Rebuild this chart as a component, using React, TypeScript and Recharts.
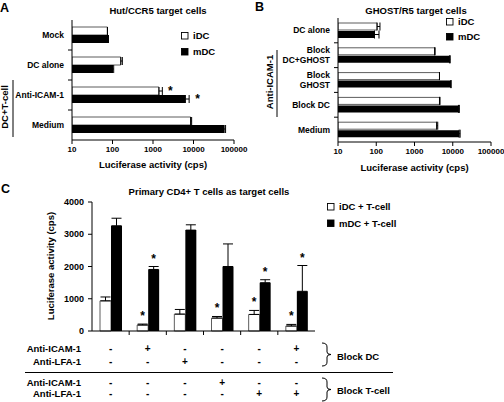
import { Bar, BarChart, ErrorBar, LabelList, Legend, XAxis, YAxis } from 'recharts'

const FONT = '"Liberation Sans", Arial, Helvetica, sans-serif'

// A: Hut/CCR5 target cells
const hutCategories = ['Mock', 'DC alone', 'Anti-ICAM-1', 'Medium']
const hutIdc = [75, 160, 1400, 8500]
const hutIdcErr = [0, 15, 300, 500]
const hutMdc = [79, 100, 6300, 57000]
const hutMdcErr = [0, 7, 1500, 5000]
const hutIdcStar = ['', '', '*', '']
const hutMdcStar = ['', '', '*', '']

// B: GHOST/R5 target cells
const ghostCategories = ['DC alone', 'Block\nDC+GHOST', 'Block\nGHOST', 'Block DC', 'Medium']
const ghostIdc = [105, 3400, 4500, 4500, 3800]
const ghostIdcErr = [20, 0, 0, 150, 250]
const ghostMdc = [90, 8200, 9000, 14100, 14700]
const ghostMdcErr = [28, 400, 0, 800, 900]

const logTicks = [10, 100, 1000, 10000, 100000]

// C: primary CD4+ T cells
const primaryIdc = [935, 185, 523, 400, 513, 154]
const primaryIdcErr = [120, 30, 145, 50, 125, 50]
const primaryMdc = [3262, 1908, 3128, 2000, 1497, 1231]
const primaryMdcErr = [235, 92, 165, 700, 93, 800]
const primaryIdcStar = [false, true, false, true, true, true]
const primaryMdcStar = [false, true, false, false, true, true]
const blockDcIcam = ['-', '+', '-', '-', '-', '+']
const blockDcLfa = ['-', '-', '+', '-', '-', '-']
const blockTIcam = ['-', '-', '-', '+', '-', '-']
const blockTLfa = ['-', '-', '-', '-', '+', '+']
const primaryTicks = [0, 1000, 2000, 3000, 4000]

const hutData = hutCategories.map((name, i) => ({
  name,
  idc: hutIdc[i],
  idcErr: [0, hutIdcErr[i]],
  idcStar: hutIdcStar[i],
  mdc: hutMdc[i],
  mdcErr: [0, hutMdcErr[i]],
  mdcStar: hutMdcStar[i],
}))

const ghostData = ghostCategories.map((name, i) => ({
  name,
  idc: ghostIdc[i],
  idcErr: [0, ghostIdcErr[i]],
  mdc: ghostMdc[i],
  mdcErr: [0, ghostMdcErr[i]],
}))

const primaryData = primaryIdc.map((v, i) => ({
  cond: String(i + 1),
  idc: v,
  idcErr: [0, primaryIdcErr[i]],
  mdc: primaryMdc[i],
  mdcErr: [0, primaryMdcErr[i]],
}))

const bold = { fontWeight: 'bold', fill: '#000' } as const

function CategoryTick(props: any) {
  const { x, y, payload } = props
  const lines = String(payload.value).split('\n')
  const lineH = 9.5
  const y0 = y - ((lines.length - 1) * lineH) / 2
  const half = payload.offset
  return (
    <g>
      {payload.index > 0 && half ? (
        <line x1={x + 4} x2={x + 8} y1={y - half} y2={y - half} stroke="#000" />
      ) : null}
      <text x={x} y={y0 + 3} textAnchor="end" fontSize={8.5} {...bold}>
        {lines.map((l, i) => (
          <tspan key={i} x={x} dy={i === 0 ? 0 : lineH}>
            {l}
          </tspan>
        ))}
      </text>
    </g>
  )
}

const tableRows = [blockDcIcam, blockDcLfa, blockTIcam, blockTLfa]
const tableOffsets = [17, 30, 51, 62]

function TableTick(props: any) {
  const { x, y, payload } = props
  const i = payload.index
  const half = payload.offset
  return (
    <g>
      {i > 0 && half ? <line x1={x - half} x2={x - half} y1={y} y2={y + 4} stroke="#000" /> : null}
      {tableRows.map((row, k) => (
        <text key={k} x={x} y={y + tableOffsets[k] + 3.5} textAnchor="middle" fontSize={10} {...bold}>
          {row[i]}
        </text>
      ))}
    </g>
  )
}

const starAbove = (stars: boolean[], errs: number[]) => (p: any) => {
  const vb = p.viewBox ?? p
  const { x, y, width, height } = vb
  const i = p.index
  if (!stars[i] || !p.value) return null
  const errPx = (height * errs[i]) / Number(p.value)
  return (
    <text x={x + width / 2} y={y - errPx - 4} textAnchor="middle" fontSize={12} {...bold}>
      *
    </text>
  )
}

function LegendBox({ payload, gap }: any) {
  return (
    <svg width={90} height={gap + 14} style={{ overflow: 'visible' }}>
      {(payload ?? []).map((e: any, i: number) => (
        <g key={i}>
          <rect x={1.5} y={4.5 + i * gap} width={6.5} height={6.5} fill={e.color} stroke="#000" strokeWidth={0.9} />
          <text x={13} y={11 + i * gap} fontSize={9.5} {...bold}>
            {e.value}
          </text>
        </g>
      ))}
    </svg>
  )
}

const frame = { stroke: '#8a8a8a' }
const axis = { stroke: '#000' }
const label = { fontSize: 9.5, ...bold }

export default function App() {
  return (
    <div style={{ position: 'absolute', left: 0, top: 0, width: 504, height: 402, background: '#fff', fontFamily: FONT }}>
      <div style={{ position: 'absolute', left: 0, top: 0 }}>
        <BarChart width={250} height={175} data={hutData} layout="vertical" barGap={0}
          margin={{ top: 20, right: 16, bottom: 0, left: 0 }}>
          <XAxis type="number" scale="log" domain={[10, 100000]} ticks={logTicks} allowDataOverflow height={35}
            tickSize={4} tickMargin={2} axisLine={axis} tickLine={axis} tick={{ fontSize: 8, ...bold }}
            label={{ value: 'Luciferase activity (cps)', position: 'insideBottom', offset: 7, style: label }} />
          <XAxis xAxisId="top" orientation="top" type="number" scale="log" domain={[10, 100000]} allowDataOverflow
            height={0} tick={false} tickLine={false} axisLine={frame} />
          <YAxis type="category" dataKey="name" width={72} interval={0} axisLine={axis} tickLine={false}
            tick={<CategoryTick />} />
          <YAxis yAxisId="right" orientation="right" type="category" dataKey="name" width={0} tick={false}
            tickLine={false} axisLine={frame} />
          <Legend layout="horizontal" verticalAlign="middle" align="center"
            wrapperStyle={{ left: 180, top: 28, width: 60, height: 32 }}
            content={(p: any) => <LegendBox payload={p.payload} gap={16} />} />
          <Bar dataKey="idc" name="iDC" fill="#fff" stroke="#333" strokeWidth={0.8} barSize={8} isAnimationActive={false}>
            <ErrorBar dataKey="idcErr" direction="x" width={4} stroke="#000" strokeWidth={1} />
            <LabelList dataKey="idcStar" position="right" offset={9} fill="#000" fontSize={12} fontWeight="bold" />
          </Bar>
          <Bar dataKey="mdc" name="mDC" fill="#000" barSize={8} isAnimationActive={false}>
            <ErrorBar dataKey="mdcErr" direction="x" width={4} stroke="#000" strokeWidth={1} />
            <LabelList dataKey="mdcStar" position="right" offset={10} fill="#000" fontSize={12} fontWeight="bold" />
          </Bar>
        </BarChart>
      </div>

      <div style={{ position: 'absolute', left: 250, top: 0 }}>
        <BarChart width={254} height={178} data={ghostData} layout="vertical" barGap={1}
          margin={{ top: 18, right: 13, bottom: 0, left: 0 }}>
          <XAxis type="number" scale="log" domain={[10, 100000]} ticks={logTicks} allowDataOverflow height={36}
            tickSize={4} tickMargin={2} axisLine={axis} tickLine={axis} tick={{ fontSize: 8, ...bold }}
            label={{ value: 'Luciferase activity (cps)', position: 'insideBottom', offset: 7, style: label }} />
          <XAxis xAxisId="top" orientation="top" type="number" scale="log" domain={[10, 100000]} allowDataOverflow
            height={0} tick={false} tickLine={false} axisLine={frame} />
          <YAxis type="category" dataKey="name" width={88} interval={0} axisLine={axis} tickLine={false}
            tick={<CategoryTick />} />
          <YAxis yAxisId="right" orientation="right" type="category" dataKey="name" width={0} tick={false}
            tickLine={false} axisLine={frame} />
          <Legend layout="horizontal" verticalAlign="middle" align="center"
            wrapperStyle={{ left: 195, top: 14, width: 60, height: 30 }}
            content={(p: any) => <LegendBox payload={p.payload} gap={15} />} />
          <Bar dataKey="idc" name="iDC" fill="#fff" stroke="#333" strokeWidth={0.8} barSize={7} isAnimationActive={false}>
            <ErrorBar dataKey="idcErr" direction="x" width={4} stroke="#000" strokeWidth={1} />
          </Bar>
          <Bar dataKey="mdc" name="mDC" fill="#000" barSize={7} isAnimationActive={false}>
            <ErrorBar dataKey="mdcErr" direction="x" width={4} stroke="#000" strokeWidth={1} />
          </Bar>
        </BarChart>
      </div>

      <div style={{ position: 'absolute', left: 0, top: 190 }}>
        <BarChart width={504} height={212} data={primaryData} barGap={0}
          margin={{ top: 12, right: 189, bottom: 0, left: 0 }}>
          <XAxis dataKey="cond" height={71} interval={0} tickSize={0} tickMargin={0} axisLine={axis} tickLine={false}
            tick={<TableTick />} />
          <XAxis xAxisId="top" orientation="top" dataKey="cond" height={0} tick={false} tickLine={false} axisLine={frame} />
          <YAxis domain={[0, 4000]} ticks={primaryTicks} width={92} tickSize={4} tickMargin={4} axisLine={axis}
            tickLine={axis} tick={{ fontSize: 9, ...bold }} />
          <YAxis yAxisId="right" orientation="right" domain={[0, 4000]} width={0} tick={false} tickLine={false}
            axisLine={frame} />
          <Legend layout="horizontal" verticalAlign="middle" align="center"
            wrapperStyle={{ left: 326, top: 9, width: 90, height: 34 }}
            content={(p: any) => <LegendBox payload={p.payload} gap={16.5} />} />
          <Bar dataKey="idc" name="iDC + T-cell" fill="#fff" stroke="#333" strokeWidth={0.8} barSize={11}
            isAnimationActive={false}>
            <ErrorBar dataKey="idcErr" width={5} stroke="#000" strokeWidth={1} />
            <LabelList dataKey="idc" content={starAbove(primaryIdcStar, primaryIdcErr)} />
          </Bar>
          <Bar dataKey="mdc" name="mDC + T-cell" fill="#000" barSize={11} isAnimationActive={false}>
            <ErrorBar dataKey="mdcErr" width={5} stroke="#000" strokeWidth={1} />
            <LabelList dataKey="mdc" content={starAbove(primaryMdcStar, primaryMdcErr)} />
          </Bar>
        </BarChart>
      </div>

      <svg width={504} height={402} style={{ position: 'absolute', left: 0, top: 0, pointerEvents: 'none' }}>
        <g {...bold}>
          <text x={0} y={12} fontSize={12.5}>A</text>
          <text x={255} y={10.5} fontSize={12.5}>B</text>
          <text x={1} y={193} fontSize={12.5}>C</text>
          <text x={158} y={14} fontSize={9.5} textAnchor="middle">Hut/CCR5 target cells</text>
          <text x={416} y={14} fontSize={9.5} textAnchor="middle">GHOST/R5 target cells</text>
          <text x={209} y={195} fontSize={9.5} textAnchor="middle">Primary CD4+ T cells as target cells</text>

          <text x={4.5} y={107} fontSize={9.5} textAnchor="middle" dominantBaseline="central"
            transform="rotate(-90 4.5 107)">DC+T-cell</text>
          <text x={269} y={82} fontSize={9.5} textAnchor="middle" dominantBaseline="central"
            transform="rotate(-90 269 82)">Anti-ICAM-1</text>
          <text x={50} y={266} fontSize={9.5} textAnchor="middle" dominantBaseline="central"
            transform="rotate(-90 50 266)">Luciferase activity (cps)</text>

          <text x={81} y={351.5} fontSize={9.5} textAnchor="end">Anti-ICAM-1</text>
          <text x={81} y={364.5} fontSize={9.5} textAnchor="end">Anti-LFA-1</text>
          <text x={81} y={385.5} fontSize={9.5} textAnchor="end">Anti-ICAM-1</text>
          <text x={81} y={396.5} fontSize={9.5} textAnchor="end">Anti-LFA-1</text>
          <text x={337} y={359.5} fontSize={9.5}>Block DC</text>
          <text x={337} y={394} fontSize={9.5}>Block T-cell</text>
        </g>
        <g stroke="#000" fill="none" strokeWidth={1}>
          <line x1={13} x2={13} y1={80} y2={137} />
          <line x1={277} x2={277} y1={50} y2={117} />
          <line x1={25} x2={393} y1={372.5} y2={372.5} />
          <path d="M322,343 Q327,343 327,347 L327,352 Q327,354.5 331,354.5 Q327,354.5 327,357 L327,362 Q327,366 322,366" />
          <path d="M322,378 Q327,378 327,382 L327,387 Q327,389.5 331,389.5 Q327,389.5 327,392 L327,397 Q327,401 322,401" />
        </g>
      </svg>
    </div>
  )
}
